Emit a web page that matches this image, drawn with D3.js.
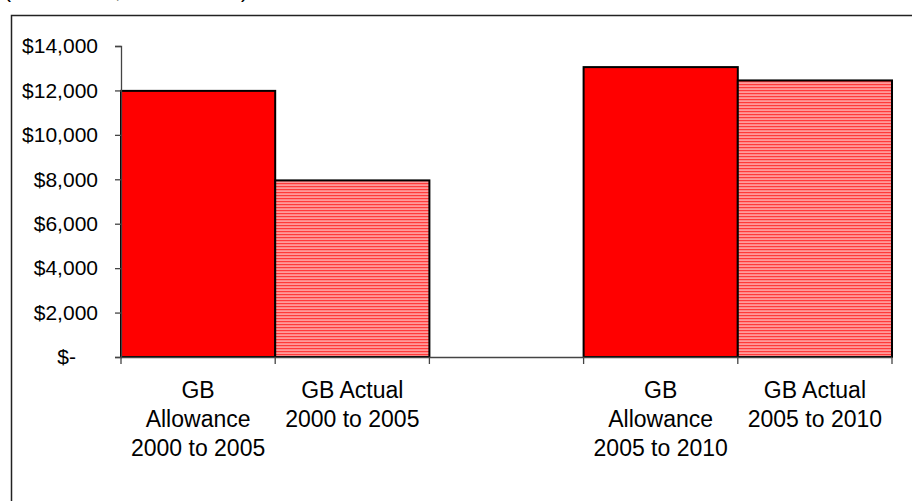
<!DOCTYPE html>
<html>
<head>
<meta charset="utf-8">
<script src="https://cdn.jsdelivr.net/npm/d3@7"></script>
<style>
  html, body { margin: 0; padding: 0; background: #fff; }
  svg { display: block; }
  text { font-family: "Liberation Sans", Arial, sans-serif; fill: #000; }
</style>
</head>
<body>
<svg id="chart" width="912" height="501"></svg>
<script>
// Categories (an empty slot separates the two periods)
const categories = [
  ["GB", "Allowance", "2000 to 2005"],
  ["GB Actual", "2000 to 2005"],
  [],
  ["GB", "Allowance", "2005 to 2010"],
  ["GB Actual", "2005 to 2010"]
];
const categoryKeys = ["a1", "b1", "gap", "a2", "b2"];
// Spend values in dollars (null = no bar)
const values = [11980, 7950, null, 13050, 12450];
// Which bars are allowances (solid) vs actuals (striped)
const kinds = ["allowance", "actual", null, "allowance", "actual"];
const yTicks = [0, 2000, 4000, 6000, 8000, 10000, 12000, 14000];
const unitsNote = "(Thousands, 2005 dollars)";

const svg = d3.select("#chart");

// Outer chart frame (runs past the right and bottom edges)
svg.append("rect")
  .attr("x", 11.5).attr("y", 15.5)
  .attr("width", 920).attr("height", 520)
  .attr("fill", "#fff").attr("stroke", "#222").attr("stroke-width", 1.5);

// Units note sitting above the frame
svg.append("text")
  .attr("x", 4).attr("y", -2)
  .attr("font-size", 21)
  .text(unitsNote);

// Striped fill for actuals
const defs = svg.append("defs");
const pat = defs.append("pattern")
  .attr("id", "stripes").attr("patternUnits", "userSpaceOnUse")
  .attr("width", 4).attr("height", 3);
pat.append("rect").attr("width", 4).attr("height", 3).attr("fill", "#ff9a9a");
pat.append("rect").attr("y", 0).attr("width", 4).attr("height", 1.2).attr("fill", "#ff3a3a");

const x = d3.scaleBand()
  .domain(categoryKeys)
  .range([121, 892])
  .paddingInner(0).paddingOuter(0);

const y = d3.scaleLinear()
  .domain([0, 14000])
  .range([357, 46]);

const data = categoryKeys.map((k, i) => ({ key: k, value: values[i], kind: kinds[i] }))
  .filter(d => d.value != null);

// Bars
svg.append("g").selectAll("rect")
  .data(data)
  .join("rect")
  .attr("x", d => x(d.key))
  .attr("y", d => y(d.value))
  .attr("width", x.bandwidth())
  .attr("height", d => y(0) - y(d.value))
  .attr("fill", d => d.kind === "allowance" ? "#ff0000" : "url(#stripes)")
  .attr("stroke", "#000")
  .attr("stroke-width", 2);

// Y axis
const fmt = v => v === 0 ? "$-" : "$" + d3.format(",")(v);
const yAxis = svg.append("g")
  .attr("transform", "translate(121,0)")
  .call(d3.axisLeft(y).tickValues(yTicks).tickFormat(fmt).tickSize(6).tickPadding(17));
yAxis.select(".domain").attr("stroke", "#444").attr("stroke-width", 1.3);
yAxis.selectAll(".tick line").attr("stroke", "#444").attr("stroke-width", 1.3);
yAxis.selectAll(".tick text")
  .attr("font-size", 21)
  .attr("font-family", "Liberation Sans, Arial, sans-serif")
  .attr("fill", "#000");
yAxis.selectAll(".tick").filter(d => d === 0).select("text").attr("x", -45);

// X axis line with category boundary ticks
const xAxisG = svg.append("g");
xAxisG.append("line")
  .attr("x1", 121).attr("x2", 892)
  .attr("y1", y(0) + 0.5).attr("y2", y(0) + 0.5)
  .attr("stroke", "#444").attr("stroke-width", 1.3);
const boundaries = categoryKeys.map(k => x(k)).concat([x(categoryKeys[categoryKeys.length - 1]) + x.bandwidth()]);
xAxisG.selectAll("line.tk")
  .data(boundaries)
  .join("line").attr("class", "tk")
  .attr("x1", d => d).attr("x2", d => d)
  .attr("y1", y(0)).attr("y2", y(0) + 7)
  .attr("stroke", "#444").attr("stroke-width", 1.3);

// Category labels
const lbl = xAxisG.selectAll("text.cat")
  .data(categoryKeys.map((k, i) => ({ key: k, lines: categories[i] })))
  .join("text").attr("class", "cat")
  .attr("text-anchor", "middle")
  .attr("font-size", 23);
lbl.each(function(d) {
  const t = d3.select(this);
  d.lines.forEach((line, j) => {
    t.append("tspan")
      .attr("x", x(d.key) + x.bandwidth() / 2)
      .attr("y", 398 + j * 29)
      .text(line);
  });
});
</script>
</body>
</html>
